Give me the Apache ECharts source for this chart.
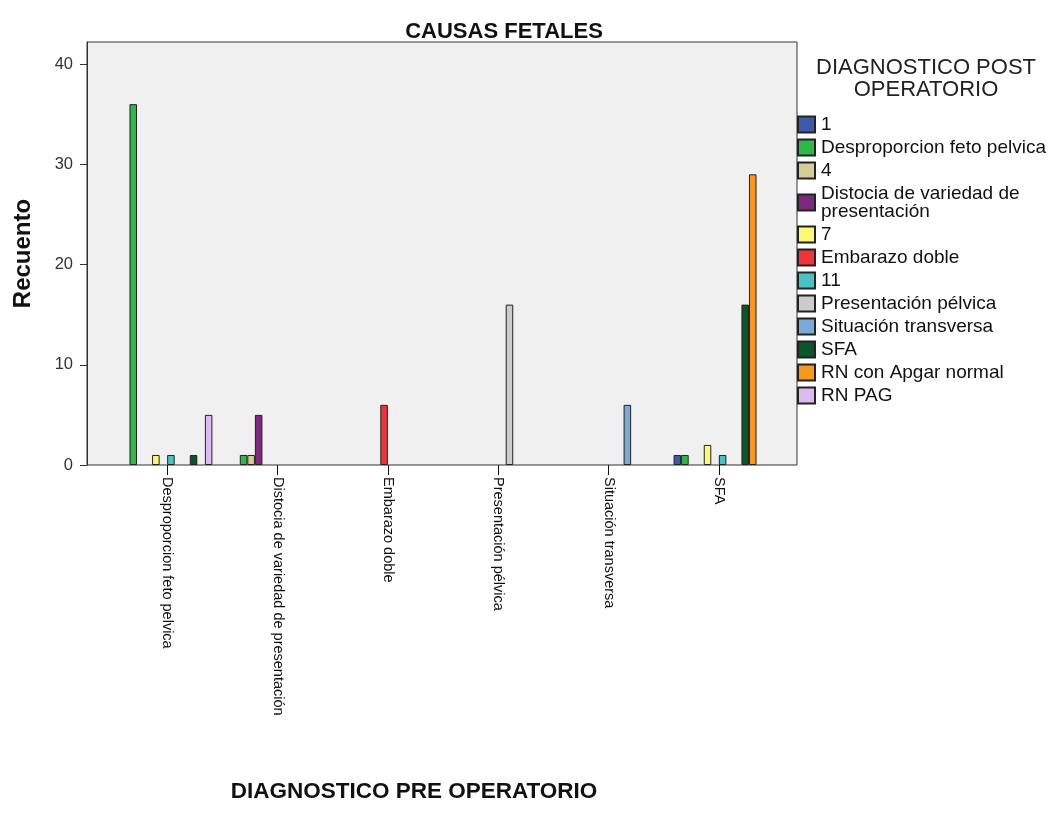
<!DOCTYPE html>
<html>
<head>
<meta charset="utf-8">
<script src="https://cdn.jsdelivr.net/npm/echarts@6/dist/echarts.min.js"></script>
<style>
  html, body { margin: 0; padding: 0; background: #fff; }
  #chart { width: 1051px; height: 829px; }
</style>
</head>
<body>
<div id="chart"></div>
<script>
  // categorias del eje X (diagnostico pre operatorio)
  const categories = [
    'Desproporcion feto pelvica',
    'Distocia de variedad de presentación',
    'Embarazo doble',
    'Presentación pélvica',
    'Situación transversa',
    'SFA'
  ]

  // series (diagnostico post operatorio)
  const seriesNames = [
    '1', 'Desproporcion feto pelvica', '4', 'Distocia de variedad de presentación',
    '7', 'Embarazo doble', '11', 'Presentación pélvica', 'Situación transversa',
    'SFA', 'RN con Apgar normal', 'RN PAG'
  ]
  const seriesColors = [
    '#3e58ac', '#2eb848', '#d3ce97', '#7c287d', '#fbf873', '#ef3338',
    '#48c2c5', '#cccccc', '#7aaad5', '#0a562c', '#f8981d', '#ddbaf1'
  ]

  // recuentos por serie, en el orden de categories
  const s1 = [null, null, null, null, null, 1]
  const sDesproporcion = [36, 1, null, null, null, 1]
  const s4 = [null, 1, null, null, null, null]
  const sDistocia = [null, 5, null, null, null, null]
  const s7 = [1, null, null, null, null, 2]
  const sEmbarazo = [null, null, 6, null, null, null]
  const s11 = [1, null, null, null, null, 1]
  const sPelvica = [null, null, null, 16, null, null]
  const sTransversa = [null, null, null, null, 6, null]
  const sSFA = [1, null, null, null, null, 16]
  const sApgar = [null, null, null, null, null, 29]
  const sPAG = [5, null, null, null, null, null]

  const seriesData = [s1, sDesproporcion, s4, sDistocia, s7, sEmbarazo, s11,
    sPelvica, sTransversa, sSFA, sApgar, sPAG]

  const yTicks = [0, 10, 20, 30, 40]

  const font = 'Liberation Sans, Arial, sans-serif'

  const chart = echarts.init(document.getElementById('chart'), null, {renderer: 'canvas'})

  chart.setOption({
    animation: false,
    textStyle: {fontFamily: font},
    title: [{
      text: 'CAUSAS FETALES',
      left: 504,
      top: 21,
      padding: 0,
      textAlign: 'center',
      textStyle: {fontFamily: font, fontSize: 22, fontWeight: 'bold', color: '#111'}
    }, {
      text: 'DIAGNOSTICO POST\nOPERATORIO',
      left: 926,
      top: 57,
      padding: 0,
      textAlign: 'center',
      textStyle: {fontFamily: font, fontSize: 22, fontWeight: 'normal', color: '#222', lineHeight: 22}
    }, {
      text: 'DIAGNOSTICO PRE OPERATORIO',
      left: 414,
      top: 780,
      padding: 0,
      textAlign: 'center',
      textStyle: {fontFamily: font, fontSize: 22.5, fontWeight: 'bold', color: '#111'}
    }],
    legend: {
      orient: 'vertical',
      left: 797,
      top: 115,
      padding: 0,
      itemWidth: 17,
      itemHeight: 16,
      itemGap: 4,
      icon: 'rect',
      data: seriesNames,
      formatter: function (name) {
        return name === 'Distocia de variedad de presentación' ? 'Distocia de variedad de\npresentación' : name
      },
      textStyle: {fontFamily: font, fontSize: 19, color: '#111', lineHeight: 18, padding: [0, 0, 0, 1]}
    },
    grid: [{
      // fondo del area de trazado
      left: 87, top: 42, width: 710, height: 423,
      show: true,
      backgroundColor: '#f0f0f0',
      borderColor: '#333',
      borderWidth: 1
    }, {
      left: 112, top: 42, width: 662, height: 423
    }],
    xAxis: [{
      gridIndex: 0, type: 'value', show: false
    }, {
      gridIndex: 1,
      type: 'category',
      data: categories,
      axisLine: {show: false},
      axisTick: {show: true, alignWithLabel: true, length: 10, lineStyle: {color: '#111', width: 1}},
      axisLabel: {
        rotate: -90,
        margin: 12,
        fontFamily: font,
        fontSize: 14.5,
        color: '#111',
        interval: 0
      }
    }],
    yAxis: [{
      gridIndex: 0, type: 'value', show: false
    }, {
      gridIndex: 1,
      type: 'value',
      min: 0,
      max: 42.2,
      interval: 10,
      offset: 25,
      name: 'Recuento',
      nameLocation: 'middle',
      nameRotate: 90,
      nameGap: 52,
      nameTextStyle: {fontFamily: font, fontSize: 24, fontWeight: 'bold', color: '#111'},
      splitLine: {show: false},
      axisLine: {show: true, lineStyle: {color: '#333', width: 1}},
      axisTick: {show: true, length: 7, lineStyle: {color: '#333'}},
      axisLabel: {
        margin: 14,
        fontFamily: font,
        fontSize: 16.5,
        color: '#333',
        showMaxLabel: false,
        formatter: function (v) { return yTicks.indexOf(v) >= 0 ? String(v) : '' }
      }
    }],
    series: seriesNames.map(function (name, i) {
      return {
        name: name,
        type: 'bar',
        xAxisIndex: 1,
        yAxisIndex: 1,
        data: seriesData[i],
        barGap: '0%',
        barCategoryGap: '18%',
        itemStyle: {color: seriesColors[i], borderColor: '#222', borderWidth: 1}
      }
    })
  })
</script>
</body>
</html>
